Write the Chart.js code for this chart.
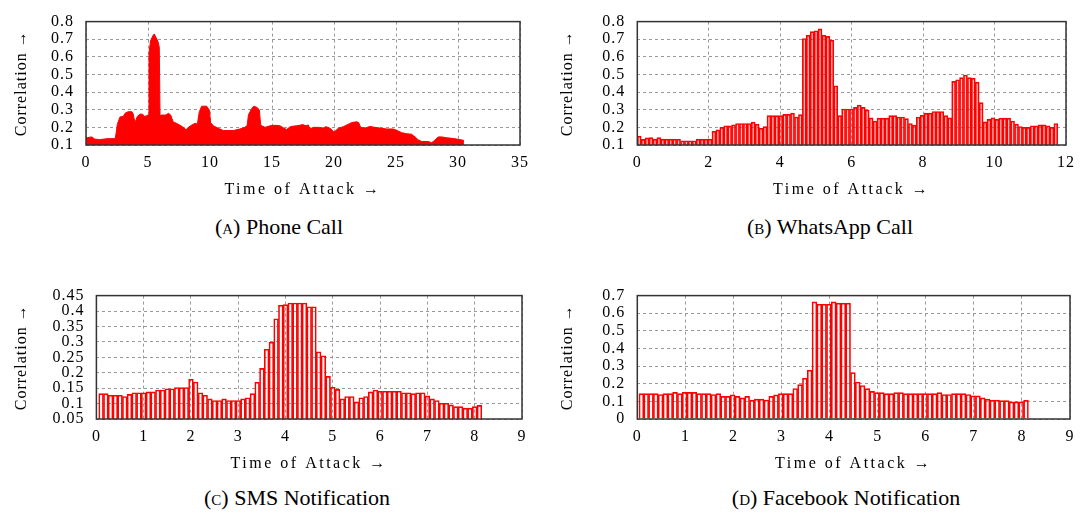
<!DOCTYPE html>
<html>
<head>
<meta charset="utf-8">
<script src="https://cdn.jsdelivr.net/npm/chart.js@4.4.0/dist/chart.umd.min.js"></script>
<style>
  body { margin: 0; background: #fff; width: 1082px; height: 513px; position: relative; overflow: hidden;
         font-family: "Liberation Serif", "Times New Roman", serif; color: #000; }
  canvas { position: absolute; }
  .cap { position: absolute; font-size: 22px; line-height: 26px; transform: translateX(-50%); white-space: nowrap; }
  .cap span { font-variant: small-caps; }
</style>
</head>
<body>
<canvas id="phone" width="540" height="199" style="left:0;top:0"></canvas>
<canvas id="whatsapp" width="542" height="199" style="left:540px;top:0"></canvas>
<canvas id="sms" width="540" height="199" style="left:0;top:274px"></canvas>
<canvas id="facebook" width="542" height="199" style="left:540px;top:274px"></canvas>
<div class="cap" style="left:279px;top:214px"><span>(a)</span> Phone Call</div>
<div class="cap" style="left:830px;top:214px"><span>(b)</span> WhatsApp Call</div>
<div class="cap" style="left:297px;top:485px"><span>(c)</span> SMS Notification</div>
<div class="cap" style="left:846px;top:485px"><span>(d)</span> Facebook Notification</div>
<script>
// phone call: read along the filled profile
const phoneTime = [0, 0.45, 0.7, 1.1, 1.7, 2.35, 2.42, 2.53, 2.74, 3.0, 3.15, 3.4, 3.7, 3.8, 3.95, 4.14, 4.35, 4.57, 4.68, 4.9,
  5.03, 5.08, 5.2, 5.38, 5.5, 5.65, 5.8, 5.91, 5.97, 6.1, 6.45, 6.64, 6.83, 7.04, 7.3, 7.58, 7.85, 8.06, 8.25, 8.5,
  8.8, 8.98, 9.14, 9.33, 9.73, 9.95, 10.05, 10.27, 10.67, 11.08, 11.88, 12.42, 12.82, 13.0, 13.1, 13.36, 13.55, 13.82, 13.98, 14.09,
  14.44, 14.84, 15.24, 15.65, 15.97, 16.18, 16.5, 16.99, 17.3, 17.47, 17.74, 17.93, 18.06, 18.33, 18.82, 19.09, 19.35, 19.68, 20.0, 20.35,
  20.75, 21.16, 21.42, 21.83, 21.99, 22.15, 22.5, 22.9, 23.31, 23.71, 24.25, 24.78, 25.1, 25.46, 25.86, 26.26, 26.53, 26.8, 27.07, 27.6,
  27.87, 28.06, 28.41, 28.68, 29.09, 29.49, 29.89, 30.3, 30.48];
const phoneCorr = [0.14, 0.146, 0.134, 0.13, 0.136, 0.136, 0.164, 0.218, 0.259, 0.262, 0.28, 0.289, 0.289, 0.277, 0.227, 0.262, 0.275, 0.275, 0.262, 0.266,
  0.271, 0.62, 0.69, 0.718, 0.73, 0.71, 0.688, 0.655, 0.266, 0.27, 0.27, 0.28, 0.27, 0.23, 0.223, 0.212, 0.2, 0.186, 0.2, 0.212,
  0.223, 0.218, 0.289, 0.32, 0.32, 0.298, 0.227, 0.209, 0.195, 0.182, 0.182, 0.191, 0.2, 0.212, 0.271, 0.307, 0.32, 0.312, 0.298, 0.212,
  0.2, 0.209, 0.212, 0.209, 0.195, 0.188, 0.205, 0.209, 0.213, 0.216, 0.209, 0.214, 0.191, 0.2, 0.2, 0.195, 0.204, 0.195, 0.173, 0.195,
  0.204, 0.218, 0.227, 0.232, 0.227, 0.2, 0.196, 0.205, 0.2, 0.196, 0.191, 0.191, 0.182, 0.17, 0.164, 0.161, 0.146, 0.129, 0.12, 0.12,
  0.113, 0.123, 0.146, 0.146, 0.141, 0.138, 0.134, 0.129, 0.125];

// whatsapp call: one bar per sample
const whatsappStart = 0.055, whatsappStep = 0.11;
const whatsappCorr = [0.15, 0.132, 0.14, 0.142, 0.133, 0.142, 0.133, 0.133, 0.133, 0.133,
  0.133, 0.124, 0.124, 0.124, 0.124, 0.133, 0.133, 0.133, 0.133, 0.178,
  0.186, 0.2, 0.209, 0.209, 0.215, 0.222, 0.222, 0.222, 0.222, 0.23,
  0.218, 0.195, 0.204, 0.267, 0.267, 0.267, 0.267, 0.274, 0.274, 0.281,
  0.259, 0.272, 0.704, 0.723, 0.743, 0.748, 0.759, 0.723, 0.716, 0.695,
  0.436, 0.267, 0.304, 0.304, 0.304, 0.313, 0.326, 0.313, 0.299, 0.254,
  0.236, 0.252, 0.252, 0.252, 0.267, 0.267, 0.259, 0.259, 0.25, 0.222,
  0.213, 0.259, 0.268, 0.281, 0.281, 0.29, 0.29, 0.29, 0.267, 0.254,
  0.461, 0.47, 0.482, 0.497, 0.482, 0.479, 0.457, 0.34, 0.231, 0.245,
  0.254, 0.245, 0.252, 0.252, 0.252, 0.236, 0.218, 0.205, 0.2, 0.2,
  0.209, 0.209, 0.214, 0.214, 0.209, 0.2, 0.222];

const smsStart = 0.1, smsStep = 0.1;
const smsCorr = [0.132, 0.132, 0.127, 0.127, 0.127, 0.123, 0.13, 0.135, 0.135, 0.135,
  0.138, 0.138, 0.144, 0.144, 0.148, 0.148, 0.152, 0.152, 0.152, 0.179,
  0.17, 0.135, 0.127, 0.115, 0.11, 0.11, 0.115, 0.11, 0.11, 0.11,
  0.115, 0.119, 0.132, 0.169, 0.214, 0.276, 0.299, 0.375, 0.419, 0.421,
  0.426, 0.426, 0.426, 0.426, 0.414, 0.414, 0.268, 0.255, 0.188, 0.153,
  0.146, 0.115, 0.123, 0.123, 0.106, 0.119, 0.123, 0.138, 0.144, 0.14,
  0.14, 0.14, 0.14, 0.14, 0.135, 0.135, 0.132, 0.135, 0.135, 0.125,
  0.115, 0.11, 0.101, 0.101, 0.096, 0.09, 0.09, 0.085, 0.085, 0.09,
  0.094];

const facebookStart = 0.085, facebookStep = 0.1;
const facebookCorr = [0.144, 0.144, 0.144, 0.144, 0.139, 0.144, 0.144, 0.151, 0.144, 0.151,
  0.151, 0.151, 0.144, 0.144, 0.144, 0.139, 0.144, 0.128, 0.128, 0.137,
  0.128, 0.12, 0.128, 0.108, 0.113, 0.113, 0.108, 0.128, 0.137, 0.144,
  0.144, 0.144, 0.173, 0.195, 0.232, 0.277, 0.664, 0.651, 0.651, 0.651,
  0.664, 0.657, 0.657, 0.657, 0.263, 0.21, 0.19, 0.172, 0.157, 0.15,
  0.15, 0.144, 0.144, 0.15, 0.15, 0.144, 0.144, 0.144, 0.144, 0.144,
  0.144, 0.144, 0.15, 0.139, 0.139, 0.144, 0.144, 0.144, 0.139, 0.131,
  0.131, 0.12, 0.113, 0.108, 0.108, 0.104, 0.104, 0.097, 0.097, 0.097,
  0.106];

// tick labels
const phoneXTicks = [0, 5, 10, 15, 20, 25, 30, 35];
const whatsappXTicks = [0, 2, 4, 6, 8, 10, 12];
const notifXTicks = [0, 1, 2, 3, 4, 5, 6, 7, 8, 9];
const callYTicks = [0.1, 0.2, 0.3, 0.4, 0.5, 0.6, 0.7, 0.8];
const smsYTicks = [0.05, 0.1, 0.15, 0.2, 0.25, 0.3, 0.35, 0.4, 0.45];
const facebookYTicks = [0, 0.1, 0.2, 0.3, 0.4, 0.5, 0.6, 0.7];

const RED = 'rgb(255,0,0)';
const tickFont = { family: "'Liberation Serif', serif", size: 16 };

function samples(start, step, vals) {
  return vals.map((v, i) => ({ x: +(start + i * step).toFixed(3), y: v }));
}

// closed gnuplot-like box round the plot area, plus the loose letter spacing
const frame = {
  id: 'frame',
  beforeDraw(chart) {
    chart.ctx.letterSpacing = '1px';
    const xs = chart.scales.x;
    if (!xs._spaced) {
      const orig = xs.drawTitle;
      xs.drawTitle = function () {
        const c = this.ctx;
        c.letterSpacing = '2.5px';
        orig.apply(this, arguments);
        c.letterSpacing = '1px';
      };
      xs._spaced = true;
    }
  },
  afterDatasetsDraw(chart) {
    const { ctx, chartArea: a } = chart;
    ctx.save();
    ctx.strokeStyle = '#333';
    ctx.lineWidth = 1.5;
    ctx.strokeRect(a.left, a.top, a.right - a.left, a.bottom - a.top);
    ctx.restore();
  }
};

function axisOpts(ticks, min, max, title, fitFn, pad) {
  return {
    type: 'linear', min: min, max: max, offset: false,
    afterBuildTicks: s => { s.ticks = ticks.map(v => ({ value: v })); },
    ticks: { font: tickFont, color: '#000', padding: pad, autoSkip: false, maxRotation: 0,
      callback: v => String(v) },
    grid: { color: '#999', lineWidth: 1, drawTicks: false, offset: false },
    border: { display: false, dash: [3, 3] },
    title: { display: true, text: title, font: tickFont, color: '#000', padding: 0 },
    afterFit: fitFn
  };
}

function makeChart(id, type, dataset, o) {
  new Chart(document.getElementById(id), {
    type: type,
    data: { datasets: [dataset] },
    options: {
      responsive: false, animation: false, devicePixelRatio: 1,
      layout: { padding: { left: o.padLeft, right: o.padRight, top: 17, bottom: 0 } },
      plugins: { legend: { display: false }, tooltip: { enabled: false } },
      scales: {
        x: axisOpts(o.xTicks, 0, o.xMax, 'Time of Attack →', s => { s.height = 54; }, 8),
        y: axisOpts(o.yTicks, o.yTicks[0], o.yTicks[o.yTicks.length - 1], 'Correlation →',
          s => { s.width = o.yWidth; }, 12)
      }
    },
    plugins: [frame]
  });
}

makeChart('phone', 'line', {
  data: phoneTime.map((t, i) => ({ x: t, y: phoneCorr[i] })),
  borderColor: RED, backgroundColor: RED, borderWidth: 1, pointRadius: 0, tension: 0, fill: 'start'
}, { padLeft: 12.4, padRight: 20, yWidth: 73.6, xMax: 35, xTicks: phoneXTicks, yTicks: callYTicks });

makeChart('whatsapp', 'bar', {
  data: samples(whatsappStart, whatsappStep, whatsappCorr),
  borderColor: RED, backgroundColor: 'rgba(255,0,0,0.25)', borderWidth: 1,
  barPercentage: 1, categoryPercentage: 1
}, { padLeft: 18.4, padRight: 9, yWidth: 78.9, xMax: 12, xTicks: whatsappXTicks, yTicks: callYTicks });

makeChart('sms', 'bar', {
  data: samples(smsStart, smsStep, smsCorr),
  borderColor: RED, backgroundColor: 'rgba(255,255,255,0)', borderWidth: 1,
  barPercentage: 1, categoryPercentage: 1
}, { padLeft: 12.4, padRight: 18, yWidth: 84, xMax: 9, xTicks: notifXTicks, yTicks: smsYTicks });

makeChart('facebook', 'bar', {
  data: samples(facebookStart, facebookStep, facebookCorr),
  borderColor: RED, backgroundColor: 'rgba(255,255,255,0)', borderWidth: 1,
  barPercentage: 1, categoryPercentage: 1
}, { padLeft: 18.4, padRight: 9, yWidth: 78.9, xMax: 9, xTicks: notifXTicks, yTicks: facebookYTicks });
</script>
</body>
</html>
